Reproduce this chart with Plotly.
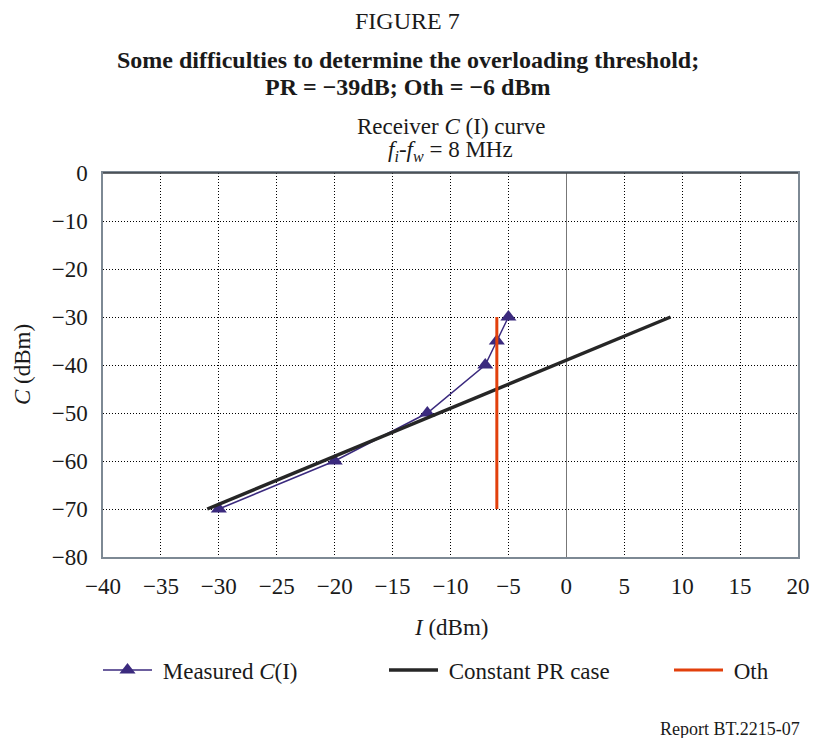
import plotly.graph_objects as go

# ---- data ----
measured_I = [-30, -20, -12, -7, -6, -5]
measured_C = [-70, -60, -50, -40, -35, -30]
pr_I = [-31, 9]
pr_C = [-70, -30]
oth_I = [-6, -6]
oth_C = [-70, -30]
x_ticks = [-40, -35, -30, -25, -20, -15, -10, -5, 0, 5, 10, 15, 20]
y_ticks = [0, -10, -20, -30, -40, -50, -60, -70, -80]

FONT = "Liberation Serif, Times New Roman, serif"
TXT = "#1a1a1a"

W, H = 815, 738
L, R, T, B = 103, 798, 173, 557


def py(p):
    return (B - p) / (B - T)


def px(p):
    return (p - L) / (R - L)


NB = "\u00a0"

fig = go.Figure()
fig.add_trace(go.Scatter(
    x=measured_I, y=measured_C, mode="lines+markers",
    name=NB + "Measured <i>C</i>(I)", legend="legend",
    line=dict(color="#3b2a7e", width=1.5),
    marker=dict(symbol="triangle-up", size=14, color="#3b2a7e"),
))
fig.add_trace(go.Scatter(
    x=pr_I, y=pr_C, mode="lines", name=NB + "Constant PR case", legend="legend2",
    line=dict(color="#262626", width=3.5),
))
fig.add_trace(go.Scatter(
    x=oth_I, y=oth_C, mode="lines", name=NB + "Oth", legend="legend3",
    line=dict(color="#e2400c", width=3),
))

axis_common = dict(
    showgrid=True, gridcolor="#000000", gridwidth=1, griddash="1px,2px",
    showline=True, linecolor="#7d8994", linewidth=1.5, mirror=True,
    ticks="", tickfont=dict(family=FONT, size=23, color=TXT),
)
fig.update_xaxes(range=[-40, 20], tickvals=x_ticks, zeroline=True,
                 zerolinecolor="#777777", zerolinewidth=1,
                 ticklabelstandoff=8, **axis_common)
fig.update_yaxes(range=[-80, 0], tickvals=y_ticks, zeroline=False,
                 ticklabelstandoff=9, **axis_common)

PAGE_C = px(W / 2)
PLOT_C = 0.5
ann = [
    dict(text="FIGURE 7", y=21, size=24, x=PAGE_C),
    dict(text="<b>Some difficulties to determine the overloading threshold;</b>", y=60, size=24, x=PAGE_C),
    dict(text="<b>PR = \u221239dB; Oth = \u22126 dBm</b>", y=87, size=24, x=PAGE_C),
    dict(text="Receiver <i>C</i> (I) curve", y=127, size=23, x=PLOT_C),
    dict(text="<i>f<sub>i</sub></i>-<i>f<sub>w</sub></i> = 8 MHz", y=151, size=23, x=PLOT_C),
    dict(text="<i>I</i> (dBm)", y=627, size=23, x=PLOT_C),
]
annotations = []
for a in ann:
    annotations.append(dict(
        text=a["text"], x=a["x"], y=py(a["y"]), xref="paper", yref="paper",
        xanchor="center", yanchor="middle", showarrow=False,
        font=dict(family=FONT, size=a["size"], color=TXT),
    ))
annotations.append(dict(
    text="<i>C</i> (dBm)", x=px(22), y=py(365), xref="paper", yref="paper",
    xanchor="center", yanchor="middle", showarrow=False, textangle=-90,
    font=dict(family=FONT, size=23, color=TXT),
))
annotations.append(dict(
    text="Report BT.2215-07", x=px(802), y=py(729), xref="paper", yref="paper",
    xanchor="right", yanchor="middle", showarrow=False,
    font=dict(family=FONT, size=18, color=TXT),
))


def leg(xpix):
    return dict(
        orientation="h", x=px(xpix), y=py(670), xanchor="left", yanchor="middle",
        font=dict(family=FONT, size=23, color=TXT),
        bgcolor="rgba(0,0,0,0)", itemwidth=49,
    )


fig.update_layout(
    width=W, height=H,
    margin=dict(l=L, r=W - R, t=T, b=H - B, pad=0, autoexpand=False),
    plot_bgcolor="white", paper_bgcolor="white",
    font=dict(family=FONT, size=23, color=TXT),
    annotations=annotations,
    shapes=[dict(type="line", xref="paper", yref="paper", x0=0, x1=1, y0=1, y1=1,
                 line=dict(color="#3a3f45", width=1.5), layer="above")],
    showlegend=True,
    legend=leg(98),
    legend2=leg(384),
    legend3=leg(669),
)

fig.write_html(
    "out.html",
    config={"displayModeBar": False},
    post_script="document.body.style.margin='0';document.body.style.overflow='hidden';",
)
